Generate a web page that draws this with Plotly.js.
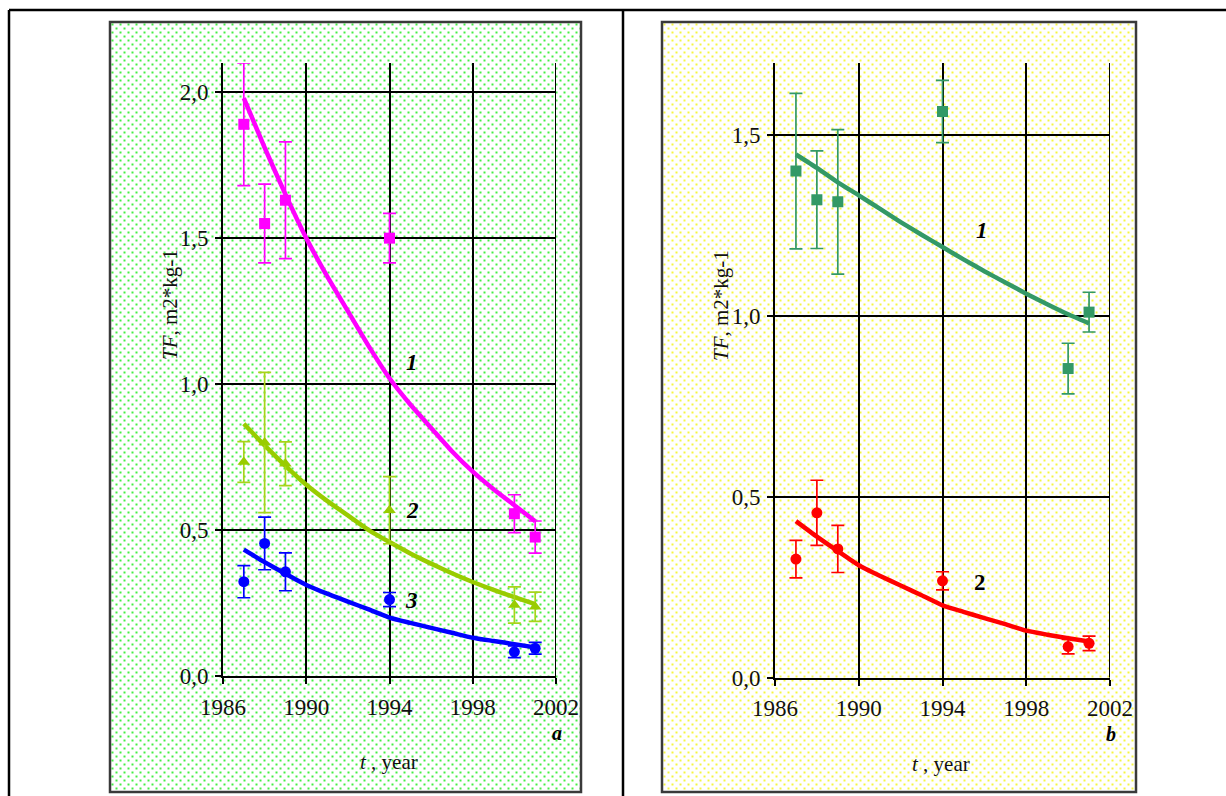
<!DOCTYPE html>
<html>
<head>
<meta charset="utf-8">
<script src="https://cdn.plot.ly/plotly-3.0.1.min.js"></script>
<style>
  html, body { margin: 0; padding: 0; background: #fff; }
  #chart { width: 1226px; height: 796px; }
</style>
</head>
<body>
<div id="chart"></div>
<script>
// ---------- data ----------
const obsYears = [1987, 1988, 1989, 1994, 2000, 2001];
const trendYears = [1987, 1988, 1989, 1990, 1991, 1992, 1993, 1994, 1995, 1996, 1997, 1998, 1999, 2000, 2001];

// panel a
const a1Values = [1.89, 1.55, 1.63, 1.50, 0.556, 0.476];
const a1Errors = [0.21, 0.135, 0.20, 0.085, 0.065, 0.055];
const a1Trend  = [1.98, 1.81, 1.65, 1.50, 1.37, 1.25, 1.13, 1.02, 0.93, 0.85, 0.77, 0.70, 0.64, 0.585, 0.53];

const a2Values = [0.733, 0.80, 0.727, 0.568, 0.243, 0.237];
const a2Errors = [0.07, 0.24, 0.075, 0.115, 0.062, 0.05];
const a2Trend  = [0.864, 0.79, 0.72, 0.655, 0.60, 0.55, 0.50, 0.459, 0.42, 0.385, 0.352, 0.322, 0.295, 0.27, 0.246];

const a3Values = [0.323, 0.454, 0.357, 0.262, 0.083, 0.095];
const a3Errors = [0.055, 0.09, 0.065, 0.024, 0.02, 0.02];
const a3Trend  = [0.433, 0.39, 0.35, 0.312, 0.282, 0.255, 0.228, 0.200, 0.182, 0.165, 0.148, 0.131, 0.120, 0.109, 0.098];

// panel b
const b1Values = [1.401, 1.322, 1.316, 1.566, 0.855, 1.011];
const b1Errors = [0.215, 0.135, 0.20, 0.086, 0.07, 0.055];
const b1Trend  = [1.447, 1.41, 1.37, 1.334, 1.297, 1.26, 1.225, 1.191, 1.157, 1.124, 1.093, 1.062, 1.033, 1.005, 0.98];

const b2Values = [0.328, 0.456, 0.356, 0.268, 0.086, 0.095];
const b2Errors = [0.052, 0.09, 0.065, 0.025, 0.02, 0.02];
const b2Trend  = [0.433, 0.39, 0.35, 0.311, 0.282, 0.255, 0.228, 0.200, 0.182, 0.165, 0.148, 0.130, 0.119, 0.109, 0.10];

// ticks
const xTickVals = [1986, 1990, 1994, 1998, 2002];
const xTickText = ['1986', '1990', '1994', '1998', '2002'];
const yTickValsA = [0, 0.5, 1.0, 1.5, 2.0];
const yTickTextA = ['0,0', '0,5', '1,0', '1,5', '2,0'];
const yTickValsB = [0, 0.5, 1.0, 1.5];
const yTickTextB = ['0,0', '0,5', '1,0', '1,5'];

// ---------- helpers ----------
const W = 1226, H = 796;
const px = v => v / W;
const py = v => 1 - v / H;
const SERIF = 'Liberation Serif, Times New Roman, serif';

function obsTrace(x, y, err, color, errColor, symbol, size, xa, ya) {
  return {
    x: x, y: y, type: 'scatter', mode: 'markers', xaxis: xa, yaxis: ya,
    marker: { color: color, symbol: symbol, size: size, line: { width: 0 } },
    error_y: { type: 'data', array: err, visible: true, color: errColor, thickness: 1.7, width: 6.5 },
    showlegend: false, hoverinfo: 'x+y'
  };
}
function trendTrace(x, y, color, xa, ya) {
  return {
    x: x, y: y, type: 'scatter', mode: 'lines', xaxis: xa, yaxis: ya,
    line: { color: color, width: 4.5, shape: 'spline', smoothing: 0.5 },
    showlegend: false, hoverinfo: 'skip'
  };
}

const MAGENTA = '#ff00ff', YGREEN = '#99cc00', YGREEN_ERR = '#a8d41a', BLUE = '#0000ff';
const SEAGREEN = '#339966', RED = '#ff0000';

const traces = [
  trendTrace(trendYears, a2Trend, YGREEN, 'x', 'y'),
  trendTrace(trendYears, a3Trend, BLUE, 'x', 'y'),
  trendTrace(trendYears, a1Trend, MAGENTA, 'x', 'y'),
  obsTrace(obsYears, a1Values, a1Errors, MAGENTA, MAGENTA, 'square', 11, 'x', 'y'),
  obsTrace(obsYears, a2Values, a2Errors, YGREEN, YGREEN_ERR, 'triangle-up', 11, 'x', 'y'),
  obsTrace(obsYears, a3Values, a3Errors, BLUE, BLUE, 'circle', 11, 'x', 'y'),
  trendTrace(trendYears, b1Trend, SEAGREEN, 'x2', 'y2'),
  trendTrace(trendYears, b2Trend, RED, 'x2', 'y2'),
  obsTrace(obsYears, b1Values, b1Errors, SEAGREEN, SEAGREEN, 'square', 11, 'x2', 'y2'),
  obsTrace(obsYears, b2Values, b2Errors, RED, RED, 'circle', 11, 'x2', 'y2')
];

function dotSvg(w, h, color) {
  const svg = '<svg xmlns="http://www.w3.org/2000/svg" width="' + w + '" height="' + h + '" viewBox="0 0 ' + w + ' ' + h + '">' +
    '<defs><pattern id="p" width="8" height="8" patternUnits="userSpaceOnUse">' +
    '<rect x="1.5" y="1.5" width="2" height="2" fill="' + color + '"/>' +
    '<rect x="5.5" y="5.5" width="2" height="2" fill="' + color + '"/>' +
    '</pattern></defs><rect width="100%" height="100%" fill="#ffffff"/>' +
    '<rect width="100%" height="100%" fill="url(#p)"/></svg>';
  return 'data:image/svg+xml;charset=utf-8,' + encodeURIComponent(svg);
}

const boxA = { x0: 110, x1: 581, y0: 22, y1: 792 };
const boxB = { x0: 662, x1: 1136, y0: 22, y1: 792 };

const axisCommon = {
  showline: true, linecolor: '#000', linewidth: 2,
  showgrid: true, gridcolor: '#000', gridwidth: 2,
  ticks: 'outside', ticklen: 6, tickwidth: 2, tickcolor: '#000',
  zeroline: false, tickfont: { family: SERIF, size: 23, color: '#111' },
  tickmode: 'array', fixedrange: true
};

const layout = {
  width: W, height: H,
  margin: { l: 0, r: 0, t: 0, b: 0 },
  paper_bgcolor: '#ffffff', plot_bgcolor: 'rgba(0,0,0,0)',
  showlegend: false,
  xaxis: Object.assign({}, axisCommon, {
    domain: [px(223), px(556)], range: [1986, 2002], anchor: 'y',
    tickvals: xTickVals, ticktext: xTickText, ticklabelstandoff: 3
  }),
  yaxis: Object.assign({}, axisCommon, {
    domain: [py(676), py(63)], range: [0, 2.1], anchor: 'x',
    tickvals: yTickValsA, ticktext: yTickTextA, ticklabelstandoff: 2
  }),
  xaxis2: Object.assign({}, axisCommon, {
    domain: [px(775), px(1110)], range: [1986, 2002], anchor: 'y2',
    tickvals: xTickVals, ticktext: xTickText, ticklabelstandoff: 3
  }),
  yaxis2: Object.assign({}, axisCommon, {
    domain: [py(677.7), py(63)], range: [0, 1.7], anchor: 'x2',
    tickvals: yTickValsB, ticktext: yTickTextB, ticklabelstandoff: 2
  }),
  images: [
    { source: dotSvg(boxA.x1 - boxA.x0, boxA.y1 - boxA.y0, '#44ee44'), xref: 'paper', yref: 'paper',
      x: px(boxA.x0), y: py(boxA.y0), sizex: px(boxA.x1 - boxA.x0), sizey: (boxA.y1 - boxA.y0) / H,
      xanchor: 'left', yanchor: 'top', sizing: 'stretch', layer: 'below' },
    { source: dotSvg(boxB.x1 - boxB.x0, boxB.y1 - boxB.y0, '#f5f540'), xref: 'paper', yref: 'paper',
      x: px(boxB.x0), y: py(boxB.y0), sizex: px(boxB.x1 - boxB.x0), sizey: (boxB.y1 - boxB.y0) / H,
      xanchor: 'left', yanchor: 'top', sizing: 'stretch', layer: 'below' }
  ],
  shapes: [
    // table lines
    { type: 'line', xref: 'paper', yref: 'paper', x0: px(9), x1: 1, y0: py(10), y1: py(10), line: { color: '#000', width: 2.5 } },
    { type: 'line', xref: 'paper', yref: 'paper', x0: px(9), x1: px(9), y0: py(10), y1: 0, line: { color: '#000', width: 2.5 } },
    { type: 'line', xref: 'paper', yref: 'paper', x0: px(623), x1: px(623), y0: py(10), y1: 0, line: { color: '#000', width: 2.5 } },
    // chart boxes
    { type: 'rect', xref: 'paper', yref: 'paper', x0: px(boxA.x0), x1: px(boxA.x1), y0: py(boxA.y0), y1: py(boxA.y1), line: { color: '#3a3a3a', width: 2.5 }, fillcolor: 'rgba(0,0,0,0)' },
    { type: 'rect', xref: 'paper', yref: 'paper', x0: px(boxB.x0), x1: px(boxB.x1), y0: py(boxB.y0), y1: py(boxB.y1), line: { color: '#3a3a3a', width: 2.5 }, fillcolor: 'rgba(0,0,0,0)' },
    // right edge gridlines at 2002
    { type: 'line', xref: 'x', yref: 'y', x0: 2002, x1: 2002, y0: 0, y1: 2.1, line: { color: '#000', width: 2 }, layer: 'below' },
    { type: 'line', xref: 'x2', yref: 'y2', x0: 2002, x1: 2002, y0: 0, y1: 1.7, line: { color: '#000', width: 2 }, layer: 'below' }
  ],
  annotations: [
    // axis titles
    { xref: 'paper', yref: 'paper', x: px(170), y: py(305), text: '<i>TF</i>, m2*kg-1', textangle: -90, showarrow: false,
      font: { family: SERIF, size: 21, color: '#111' }, xanchor: 'center', yanchor: 'middle' },
    { xref: 'paper', yref: 'paper', x: px(721), y: py(306), text: '<i>TF</i>, m2*kg-1', textangle: -90, showarrow: false,
      font: { family: SERIF, size: 21, color: '#111' }, xanchor: 'center', yanchor: 'middle' },
    { xref: 'paper', yref: 'paper', x: px(389), y: py(762), text: '<i>t</i> , year', showarrow: false,
      font: { family: SERIF, size: 21, color: '#111' }, xanchor: 'center', yanchor: 'middle' },
    { xref: 'paper', yref: 'paper', x: px(941), y: py(764), text: '<i>t</i> , year', showarrow: false,
      font: { family: SERIF, size: 21, color: '#111' }, xanchor: 'center', yanchor: 'middle' },
    // panel letters
    { xref: 'paper', yref: 'paper', x: px(557), y: py(733), text: '<b><i>a</i></b>', showarrow: false,
      font: { family: SERIF, size: 20, color: '#000' }, xanchor: 'center', yanchor: 'middle' },
    { xref: 'paper', yref: 'paper', x: px(1111), y: py(734), text: '<b><i>b</i></b>', showarrow: false,
      font: { family: SERIF, size: 20, color: '#000' }, xanchor: 'center', yanchor: 'middle' },
    // curve labels
    { xref: 'x', yref: 'y', x: 1995.1, y: 1.074, text: '<b><i>1</i></b>', showarrow: false, font: { family: SERIF, size: 23, color: '#000' } },
    { xref: 'x', yref: 'y', x: 1995.1, y: 0.568, text: '<b><i>2</i></b>', showarrow: false, font: { family: SERIF, size: 23, color: '#000' } },
    { xref: 'x', yref: 'y', x: 1995.05, y: 0.26, text: '<b><i>3</i></b>', showarrow: false, font: { family: SERIF, size: 23, color: '#000' } },
    { xref: 'x2', yref: 'y2', x: 1995.9, y: 1.237, text: '<b><i>1</i></b>', showarrow: false, font: { family: SERIF, size: 23, color: '#000' } },
    { xref: 'x2', yref: 'y2', x: 1995.8, y: 0.262, text: '<b>2</b>', showarrow: false, font: { family: SERIF, size: 23, color: '#000' } }
  ]
};

Plotly.newPlot('chart', traces, layout, { displayModeBar: false, staticPlot: true });
</script>
</body>
</html>
